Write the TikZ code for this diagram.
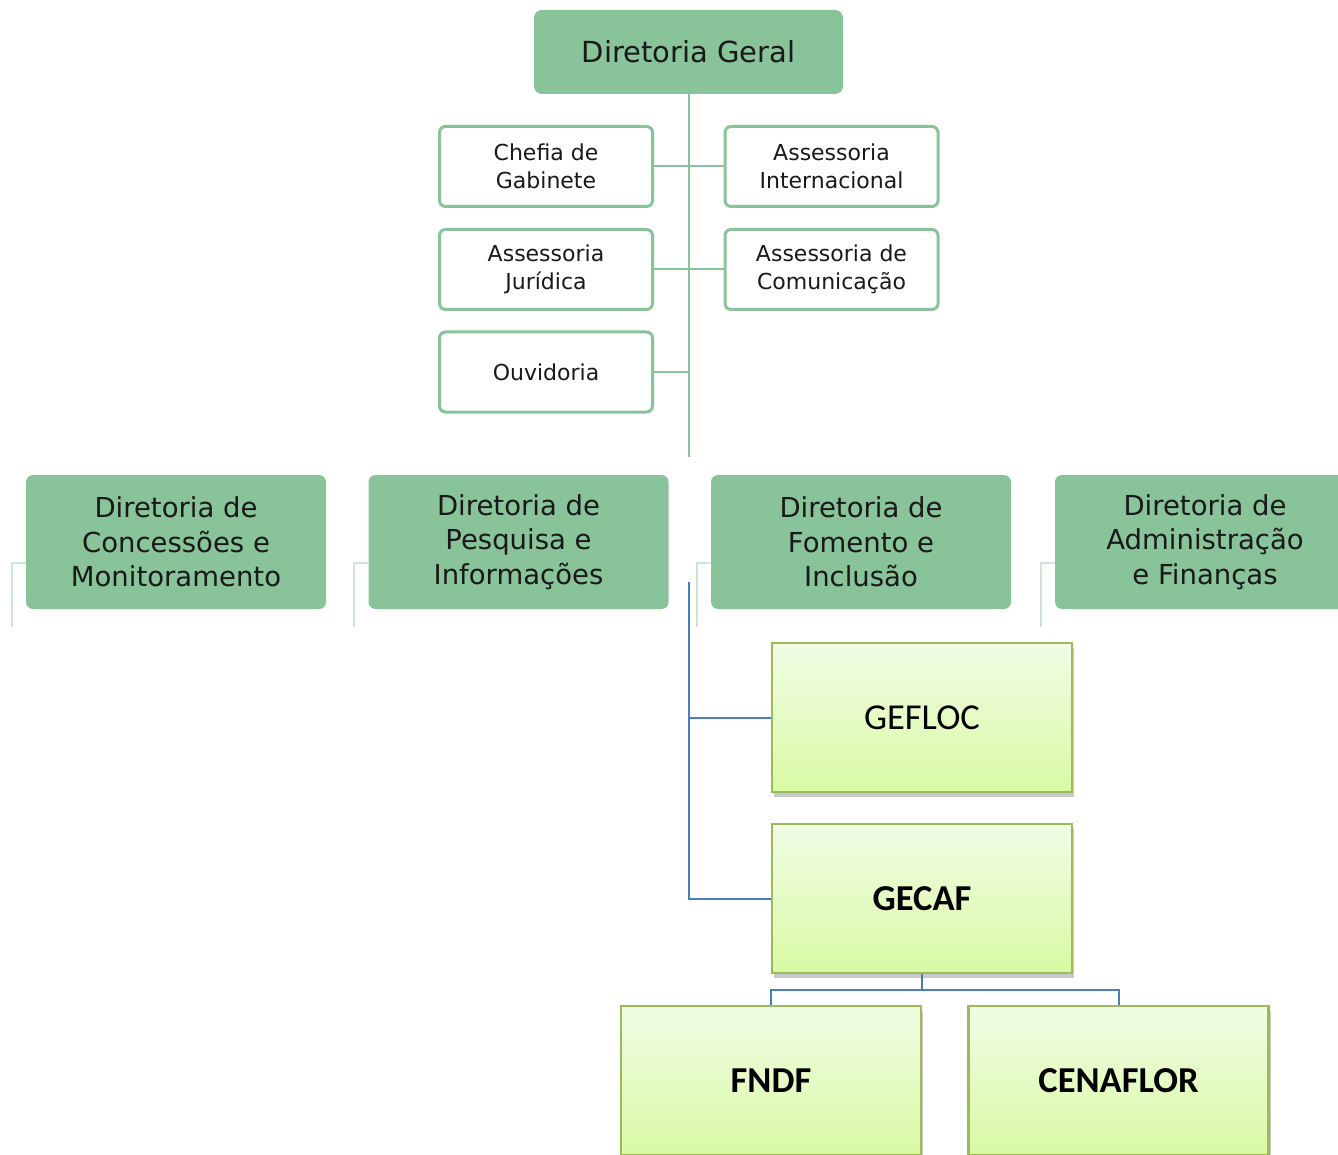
\documentclass[tikz,border=0pt]{standalone}
\usepackage{fontspec}
\usepackage{tikz}
\usetikzlibrary{shadows}
\newfontfamily\verdanafont{DejaVu Sans}
\newfontfamily\calibrifont{Carlito}
\definecolor{sage green}{rgb}{0.5333, 0.7647, 0.6039}
\definecolor{stub green}{rgb}{0.8000, 0.9000, 0.8300}
\definecolor{lime top}{rgb}{0.9451, 0.9882, 0.8980}
\definecolor{lime bottom}{rgb}{0.8510, 0.9804, 0.6431}
\definecolor{olive edge}{rgb}{0.6078, 0.7333, 0.3490}
\definecolor{office blue}{rgb}{0.2902, 0.4941, 0.7333}
\definecolor{ink}{rgb}{0.10, 0.10, 0.10}

\begin{document}
\begin{tikzpicture}[x=1pt, y=-1pt,
		head/.style={fill=sage green, rounded corners=8pt, inner sep=0pt,
			minimum width=309pt, minimum height=84pt, text=ink,
			font=\verdanafont\fontsize{29}{35}\selectfont},
		staff/.style={draw=sage green, line width=3pt, fill=white, rounded corners=6pt,
			inner sep=0pt, minimum width=213pt, minimum height=80pt, align=center,
			text=ink, font=\verdanafont\fontsize{22}{28}\selectfont},
		board/.style={fill=sage green, rounded corners=7pt, inner sep=0pt,
			minimum width=300pt, minimum height=134pt, align=center, text=ink,
			font=\verdanafont\fontsize{27.5}{34.5}\selectfont},
		unit/.style={draw=olive edge, line width=2.5pt, top color=lime top,
			bottom color=lime bottom, inner sep=0pt, minimum width=300pt,
			minimum height=149pt, text=black,
			drop shadow={shadow xshift=2pt, shadow yshift=-5pt, opacity=0.3, fill=black!70},
			font=\calibrifont\fontsize{36.5}{43}\selectfont},
		trunk/.style={draw=sage green, line width=2pt},
		stub/.style={draw=stub green, line width=2pt},
		blue line/.style={draw=office blue, line width=2pt}]
	\useasboundingbox (0,0) rectangle (1338,1155);
	\clip (0,0) rectangle (1338,1155);

	% top box and staff units
	\node[head] (geral) at (688.5,52) {Diretoria Geral};
	\coordinate (trunk end) at (688.5,457);
	\draw[trunk] (geral.south) -- (trunk end);
	\node[staff] (chefia) at (546,166.5) {Chefia de\\Gabinete};
	\node[staff] (intl) at (831.5,166.5) {Assessoria\\Internacional};
	\node[staff] (jurid) at (546,269.5) {Assessoria\\Jurídica};
	\node[staff] (comun) at (831.5,269.5) {Assessoria de\\Comunicação};
	\node[staff] (ouvid) at (546,372) {Ouvidoria};
	\draw[trunk]
		(chefia.east) -- (intl.west)
		(jurid.east) -- (comun.west)
		(ouvid.east) -- (ouvid.east -| geral.south);

	% directorates
	\node[board] (conc) at (176,542) {Diretoria de\\Concessões e\\Monitoramento};
	\node[board] (pesq) at (518.5,542) {Diretoria de\\Pesquisa e\\Informações};
	\node[board] (foment) at (861,542) {Diretoria de\\Fomento e\\Inclusão};
	\node[board] (admin) at (1205,542) {Diretoria de\\Administração\\e Finanças};
	\foreach \d in {conc,pesq,foment,admin}
		\draw[stub] ([yshift=-21pt]\d.west) -| ++(-14,64);

	% units under Fomento
	\node[unit] (gefloc) at (922,717.5) {GEFLOC};
	\node[unit] (gecaf) at (922,898.5) {\bfseries GECAF};
	\node[unit] (fndf) at (771,1080.5) {\bfseries FNDF};
	\node[unit] (cenaflor) at (1118.5,1080.5) {\bfseries CENAFLOR};
	\coordinate (blue top) at (689,582);
	\draw[blue line]
		(blue top) |- (gefloc.west)
		(blue top) |- (gecaf.west);
	\draw[blue line] (gecaf.south) -- ++(0,16) -| (fndf.north);
	\draw[blue line] (gecaf.south) -- ++(0,16) -| (cenaflor.north);
\end{tikzpicture}
\end{document}
